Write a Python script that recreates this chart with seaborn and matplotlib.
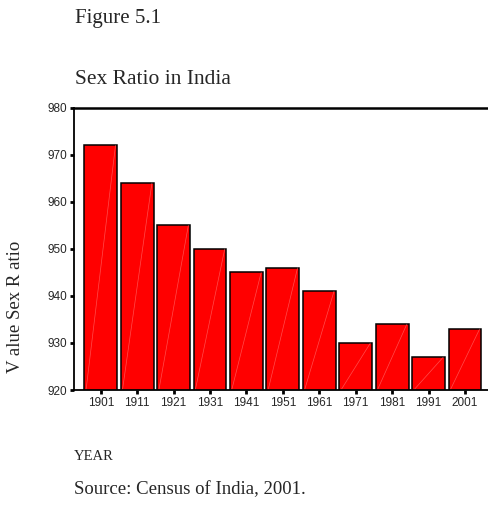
import matplotlib
matplotlib.use("Agg")
import matplotlib.pyplot as plt
import seaborn as sns
import pandas as pd

years = ["1901", "1911", "1921", "1931", "1941", "1951", "1961", "1971", "1981", "1991", "2001"]
sex_ratio = [972, 964, 955, 950, 945, 946, 941, 930, 934, 927, 933]
y_ticks = [920, 930, 940, 950, 960, 970, 980]

df = pd.DataFrame({"YEAR": years, "ratio": sex_ratio})

sns.set_theme(style="white")
plt.rcParams["font.family"] = ["Liberation Sans Narrow", "Liberation Sans", "DejaVu Sans"]

fig = plt.figure(figsize=(4.89, 5.17), dpi=100)
ax = fig.add_axes([0.151, 0.2456, 0.849, 0.5464])

sns.barplot(data=df, x="YEAR", y="ratio", color="#ff0000", saturation=1,
            edgecolor="black", linewidth=1.1, width=0.9, ax=ax)

ax.set_ylim(920, 980)
ax.set_xlim(-0.74, 10.66)

# faint diagonal streak inside each bar (old SPSS rendering artefact)
for p in ax.patches:
    x0 = p.get_x()
    w = p.get_width()
    top = p.get_y() + p.get_height()
    ax.plot([x0 + 0.05 * w, x0 + 0.95 * w], [920, top], color="#ff9a9a",
            lw=0.5, alpha=0.5, zorder=p.get_zorder() + 0.1)

ax.set_yticks(y_ticks)
ax.set_xlabel("")
ax.set_ylabel("")
ax.tick_params(axis="both", which="major", length=3, width=2, color="black",
               labelsize=8.5, pad=2, left=True, bottom=True)
for s in ["left", "bottom", "top"]:
    ax.spines[s].set_color("black")
    ax.spines[s].set_linewidth(1.3)
ax.spines["top"].set_linewidth(1.8)
ax.spines["right"].set_visible(False)

serif = ["Liberation Serif", "DejaVu Serif"]
fig.text(75 / 489, 1 - 18 / 517, "Figure 5.1", family=serif, fontsize=15, va="center", ha="left")
fig.text(75 / 489, 1 - 80 / 517, "Sex Ratio in India", family=serif, fontsize=15.5, va="center", ha="left")
fig.text(16 / 489, 1 - 307 / 517, "V alue Sex R atio", family=serif, fontsize=13.5,
         rotation=90, va="center", ha="center")
fig.text(74 / 489, 1 - 456 / 517, "YEAR", family=serif, fontsize=10.5, va="center", ha="left")
fig.text(74 / 489, 1 - 490 / 517, "Source: Census of India, 2001.", family=serif, fontsize=13.5,
         va="center", ha="left")

fig.savefig("out.png", dpi=100)
